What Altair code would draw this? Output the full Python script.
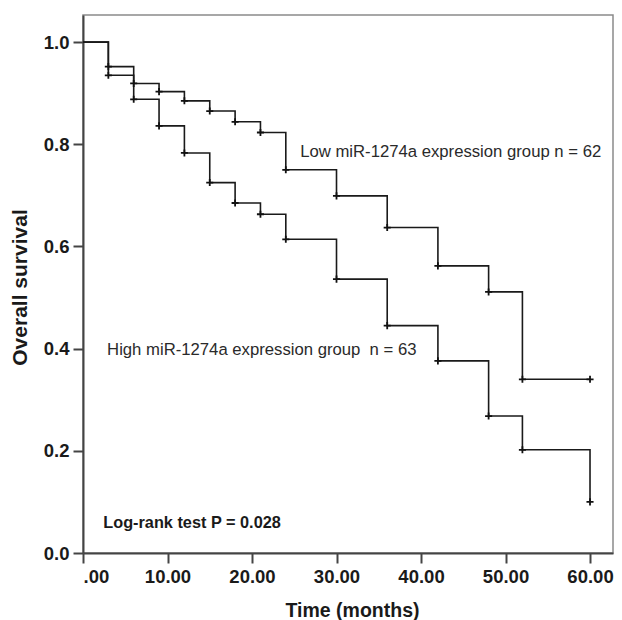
import altair as alt
import pandas as pd

# Kaplan-Meier step data
times = [0, 3, 6, 9, 12, 15, 18, 21, 24, 30, 36, 42, 48, 52, 60]
low_surv = [1.0, 0.952, 0.919, 0.903, 0.885, 0.865, 0.844, 0.823, 0.750,
            0.699, 0.637, 0.562, 0.511, 0.340, 0.340]
high_surv = [1.0, 0.935, 0.888, 0.836, 0.783, 0.725, 0.685, 0.663, 0.614,
             0.536, 0.445, 0.376, 0.268, 0.202, 0.100]
groups = ["Low", "High"]

x_ticks = [0, 10, 20, 30, 40, 50, 60]
y_ticks = [0.0, 0.2, 0.4, 0.6, 0.8, 1.0]

label_texts = ["Low miR-1274a expression group n = 62",
               "High miR-1274a expression group\u00a0\u00a0n = 63"]
label_x = [25.7, 2.85]
label_y = [0.785, 0.397]
pval_text = "Log-rank test P = 0.028"

rows = []
for g, s in zip(groups, [low_surv, high_surv]):
    for t, v in zip(times, s):
        rows.append({"group": g, "time": t, "surv": v})
df = pd.DataFrame(rows)
df_cens = df[df["time"] > 0]

lab_df = pd.DataFrame({"text": label_texts, "x": label_x, "y": label_y})
p_df = pd.DataFrame({"text": [pval_text], "x": [2.4], "y": [0.059]})

xs = alt.Scale(domain=[0, 62.72], nice=False, zero=False)
ys = alt.Scale(domain=[0, 1.053], nice=False)

x_enc = alt.X("time:Q", scale=xs, axis=alt.Axis(
    values=x_ticks, title="Time (months)",
    labelExpr="datum.value == 0 ? '.00' : format(datum.value, '.2f')",
    titleX=269, titleY=57, titleAlign="center", titleBaseline="middle",
    labelPadding=4))
y_enc = alt.Y("surv:Q", scale=ys, axis=alt.Axis(
    values=y_ticks, format=".1f", title="Overall survival",
    titleX=-63, titleY=272, titleAngle=270, titleAlign="center",
    titleBaseline="middle", labelPadding=4, titleFontSize=21))

lines = alt.Chart(df).mark_line(interpolate="step-after", color="#1a1a1a",
                                strokeWidth=1.6).encode(
    x=x_enc, y=y_enc, detail="group:N")

cross = alt.Chart(df_cens).mark_point(
    shape="M-1,0L1,0M0,-1L0,1", filled=False, size=50, color="#111111",
    strokeWidth=1.8, opacity=1).encode(
    x=alt.X("time:Q", scale=xs), y=alt.Y("surv:Q", scale=ys), detail="group:N")

labels = alt.Chart(lab_df).mark_text(
    align="left", baseline="middle", font="Liberation Sans", fontSize=16.7,
    color="#2a2a2a").encode(
    x=alt.X("x:Q", scale=xs), y=alt.Y("y:Q", scale=ys), text="text:N")

ptext = alt.Chart(p_df).mark_text(
    align="left", baseline="middle", font="Liberation Sans", fontSize=16.3,
    fontWeight="bold", color="#1a1a1a").encode(
    x=alt.X("x:Q", scale=xs), y=alt.Y("y:Q", scale=ys), text="text:N")

chart = alt.layer(lines, cross, labels, ptext).properties(
    width=530, height=538,
    autosize=alt.AutoSizeParams(type="none"),
    padding={"left": 75, "top": 7, "right": 1, "bottom": 70},
).configure_view(
    stroke="#8a8a8a", strokeWidth=1.5
).configure_axis(
    grid=False, domainColor="#444444", domainWidth=2,
    tickColor="#444444", tickWidth=2, tickSize=10,
    labelFont="Liberation Sans", labelFontSize=18.5, labelFontWeight="bold",
    labelColor="#1a1a1a", titleFont="Liberation Sans", titleFontSize=19.5,
    titleFontWeight="bold", titleColor="#1a1a1a"
)

chart.save("out.html", embed_options={"renderer": "svg", "actions": False})
